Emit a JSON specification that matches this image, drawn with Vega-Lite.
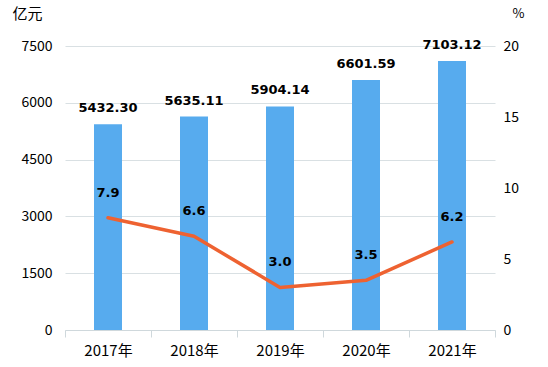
{
  "$schema": "https://vega.github.io/schema/vega-lite/v6.json",
  "width": 430,
  "height": 284,
  "autosize": {"type": "none"},
  "padding": {"left": 65, "top": 46, "right": 53, "bottom": 37},
  "background": "#ffffff",
  "config": {
    "view": {"stroke": null},
    "font": "Noto Sans CJK SC",
    "axis": {"labelFont": "Noto Sans CJK SC", "titleFont": "Noto Sans CJK SC", "labelColor": "#000000", "titleColor": "#000000"}
  },
  "data": {
    "values": [
      {"year": "2017年", "amount": 5432.30, "rate": 7.9},
      {"year": "2018年", "amount": 5635.11, "rate": 6.6},
      {"year": "2019年", "amount": 5904.14, "rate": 3.0},
      {"year": "2020年", "amount": 6601.59, "rate": 3.5},
      {"year": "2021年", "amount": 7103.12, "rate": 6.2}
    ]
  },
  "encoding": {
    "x": {
      "field": "year",
      "type": "nominal",
      "sort": null,
      "scale": {"paddingInner": 0, "paddingOuter": 0},
      "axis": {
        "title": null,
        "labelAngle": 0,
        "labelFontSize": 15,
        "labelPadding": 6,
        "domainColor": "#CFD8DC",
        "tickColor": "#CFD8DC",
        "tickSize": 7,
        "tickBand": "extent",
        "grid": false
      }
    }
  },
  "layer": [
    {
      "encoding": {
        "y": {
          "field": "amount",
          "type": "quantitative",
          "scale": {"domain": [0, 7500], "nice": false},
          "axis": {
            "orient": "left",
            "values": [0, 1500, 3000, 4500, 6000, 7500],
            "format": "d",
            "title": "亿元",
            "titleAngle": 0,
            "titleAlign": "left",
            "titleBaseline": "top",
            "titleX": -53,
            "titleY": -40,
            "titleFontSize": 15,
            "titleFontWeight": "normal",
            "labelFontSize": 14,
            "labelPadding": 13,
            "domain": false,
            "ticks": false,
            "grid": true,
            "gridColor": "#D9E0E3",
            "gridWidth": 1
          }
        }
      },
      "layer": [
        {"mark": {"type": "bar", "size": 28, "color": "#57ABEE"}},
        {
          "mark": {"type": "text", "baseline": "bottom", "dy": -9, "font": "DejaVu Sans", "fontWeight": "bold", "fontSize": 13, "color": "#000000"},
          "encoding": {"text": {"field": "amount", "type": "quantitative", "format": ".2f"}}
        }
      ]
    },
    {
      "encoding": {
        "y": {
          "field": "rate",
          "type": "quantitative",
          "scale": {"domain": [0, 20], "nice": false},
          "axis": {
            "orient": "right",
            "values": [0, 5, 10, 15, 20],
            "title": "%",
            "titleAngle": 0,
            "titleAlign": "left",
            "titleBaseline": "top",
            "titleX": 17,
            "titleY": -39,
            "titleFontSize": 13,
            "titleFontWeight": "normal",
            "labelFontSize": 14,
            "labelPadding": 8,
            "domain": false,
            "ticks": false,
            "grid": false
          }
        }
      },
      "layer": [
        {"mark": {"type": "line", "color": "#EE6231", "strokeWidth": 3.5, "strokeCap": "round", "strokeJoin": "round"}},
        {
          "mark": {"type": "text", "baseline": "bottom", "dy": -18, "font": "DejaVu Sans", "fontWeight": "bold", "fontSize": 13, "color": "#000000"},
          "encoding": {"text": {"field": "rate", "type": "quantitative", "format": ".1f"}}
        }
      ]
    }
  ],
  "resolve": {"scale": {"y": "independent"}}
}
